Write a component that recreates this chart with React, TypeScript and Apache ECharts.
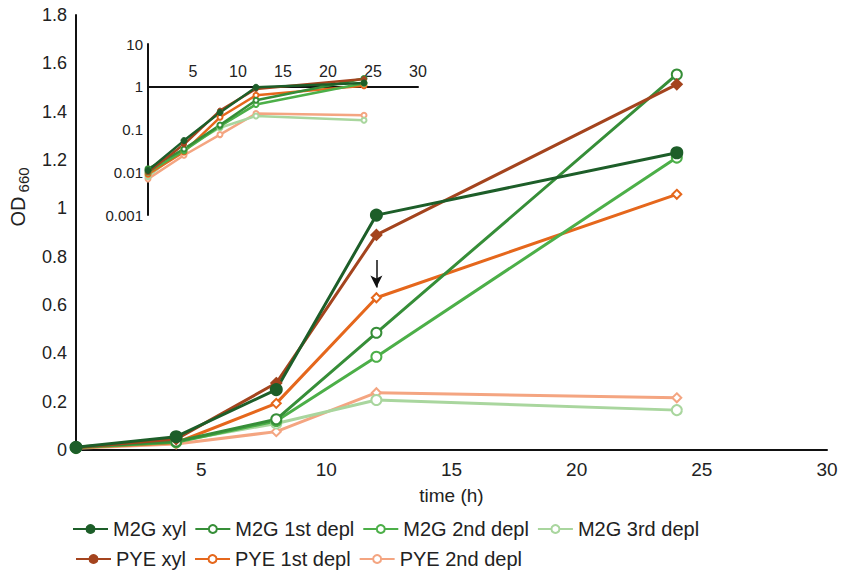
import React, { useEffect, useRef } from "react";
import * as echarts from "echarts";

const hours = [0, 4, 8, 12, 24];
const m2gXyl = [0.011, 0.055, 0.25, 0.972, 1.23];
const m2g1st = [0.012, 0.035, 0.127, 0.485, 1.554];
const m2g2nd = [0.01, 0.032, 0.12, 0.386, 1.21];
const m2g3rd = [0.008, 0.036, 0.11, 0.207, 0.165];
const pyeXyl = [0.01, 0.045, 0.277, 0.89, 1.513];
const pye1st = [0.009, 0.03, 0.193, 0.63, 1.058];
const pye2nd = [0.007, 0.025, 0.076, 0.237, 0.216];

const seriesNames = [
  "M2G xyl",
  "M2G 1st depl",
  "M2G 2nd depl",
  "M2G 3rd depl",
  "PYE xyl",
  "PYE 1st depl",
  "PYE 2nd depl",
];
const xTicks = [0, 5, 10, 15, 20, 25, 30];
const logTicks = [0.001, 0.01, 0.1, 1, 10];
const arrowFrom = [12, 0.786];
const arrowTo = [12, 0.672];

const FONT = "'Liberation Sans', Arial, Helvetica, sans-serif";

type Def = { name: string; values: number[]; color: string; symbol: string; size: number; insetSize: number };

const defs: Def[] = [
  { name: seriesNames[6], values: pye2nd, color: "#f4a581", symbol: "emptyDiamond", size: 9, insetSize: 5 },
  { name: seriesNames[3], values: m2g3rd, color: "#a9d69e", symbol: "emptyCircle", size: 10, insetSize: 5 },
  { name: seriesNames[5], values: pye1st, color: "#e5671c", symbol: "emptyDiamond", size: 9, insetSize: 5 },
  { name: seriesNames[2], values: m2g2nd, color: "#4caf48", symbol: "emptyCircle", size: 10, insetSize: 5 },
  { name: seriesNames[1], values: m2g1st, color: "#368e38", symbol: "emptyCircle", size: 10, insetSize: 5 },
  { name: seriesNames[4], values: pyeXyl, color: "#a4441e", symbol: "diamond", size: 10, insetSize: 5 },
  { name: seriesNames[0], values: m2gXyl, color: "#1d5e29", symbol: "circle", size: 11, insetSize: 6 },
];

export default function App() {
  const ref = useRef<HTMLDivElement>(null);
  useEffect(() => {
    if (!ref.current) return;
    const chart = echarts.init(ref.current, null, { renderer: "svg" });
    const mainSeries = defs.map((d) => ({
      type: "line",
      name: d.name,
      xAxisIndex: 0,
      yAxisIndex: 0,
      data: hours.map((h, i) => [h, d.values[i]]),
      symbol: d.symbol,
      symbolSize: d.size,
      lineStyle: { color: d.color, width: 3 },
      itemStyle: { color: d.color, borderColor: d.color, borderWidth: 2 },
      emphasis: { disabled: true },
      markLine:
        d.name === "PYE 1st depl"
          ? {
              silent: true,
              symbol: ["none", "arrow"],
              symbolSize: [9, 12],
              label: { show: false },
              lineStyle: { color: "#111", width: 1.5, type: "solid" },
              data: [[{ coord: arrowFrom }, { coord: arrowTo }]],
            }
          : undefined,
    }));
    const insetSeries = defs.map((d) => ({
      type: "line",
      name: d.name,
      xAxisIndex: 1,
      yAxisIndex: 1,
      data: hours.map((h, i) => [h, d.values[i]]),
      symbol: d.symbol === "circle" || d.symbol === "diamond" ? "circle" : "emptyCircle",
      symbolSize: d.insetSize,
      lineStyle: { color: d.color, width: 2.5 },
      itemStyle: { color: d.color, borderColor: d.color, borderWidth: 1 },
      emphasis: { disabled: true },
    }));
    const legendText = { fontFamily: FONT, fontSize: 20, color: "#222" };
    chart.setOption({
      animation: false,
      textStyle: { fontFamily: FONT },
      grid: [
        { left: 76, right: 15, top: 15, bottom: 121, containLabel: false },
        { left: 148, top: 44, width: 270, height: 171, containLabel: false },
        { left: 148, top: 87, width: 270, height: 1, containLabel: false },
      ],
      legend: [
        {
          data: seriesNames.slice(0, 4),
          left: 72,
          top: 519,
          padding: 0,
          itemWidth: 35,
          itemHeight: 10,
          itemGap: 8,
          textStyle: legendText,
          selectedMode: false,
        },
        {
          data: seriesNames.slice(4),
          left: 75,
          top: 549,
          padding: 0,
          itemWidth: 35,
          itemHeight: 10,
          itemGap: 8,
          textStyle: legendText,
          selectedMode: false,
        },
      ],
      xAxis: [
        {
          type: "value",
          gridIndex: 0,
          min: xTicks[0],
          max: xTicks[xTicks.length - 1],
          interval: 5,
          name: "time (h)",
          nameLocation: "middle",
          nameGap: 36,
          nameTextStyle: { fontSize: 19, color: "#222", fontFamily: FONT },
          axisLine: { show: true, onZero: false, lineStyle: { color: "#111", width: 2 } },
          axisTick: { show: false },
          splitLine: { show: false },
          axisLabel: { fontSize: 19, color: "#222", margin: 10, showMinLabel: false },
        },
        {
          type: "value",
          gridIndex: 1,
          min: 0,
          max: 30,
          interval: 5,
          show: false,
        },
        {
          type: "value",
          gridIndex: 2,
          position: "top",
          min: 0,
          max: 30,
          interval: 5,
          axisLine: { show: true, onZero: false, lineStyle: { color: "#111", width: 2 } },
          axisTick: { show: false },
          splitLine: { show: false },
          axisLabel: { fontSize: 16, color: "#222", margin: 8, showMinLabel: false },
        },
      ],
      yAxis: [
        {
          type: "value",
          gridIndex: 0,
          min: 0,
          max: 1.8,
          interval: 0.2,
          name: "{a|OD}{b| 660}",
          nameLocation: "middle",
          nameGap: 43,
          nameRotate: 90,
          nameTextStyle: {
            padding: [0, 0, 0, 71],
            rich: {
              a: { fontSize: 20, color: "#222", fontFamily: FONT, verticalAlign: "bottom" },
              b: { fontSize: 15, color: "#222", fontFamily: FONT, verticalAlign: "bottom", padding: [0, 0, -3, 0] },
            },
          },
          axisLine: { show: true, lineStyle: { color: "#111", width: 2 } },
          axisTick: { show: false },
          splitLine: { show: false },
          axisLabel: { fontSize: 18, color: "#222", margin: 9 },
        },
        {
          type: "log",
          gridIndex: 1,
          logBase: 10,
          min: logTicks[0],
          max: logTicks[logTicks.length - 1],
          axisLine: { show: true, lineStyle: { color: "#111", width: 2 } },
          axisTick: { show: false },
          splitLine: { show: false },
          axisLabel: {
            fontSize: 15,
            color: "#222",
            margin: 5,
            formatter: (v: number) => {
              const m = logTicks.find((t) => Math.abs(Math.log10(t) - Math.log10(v)) < 1e-6);
              return m !== undefined ? String(m) : "";
            },
          },
        },
        {
          type: "value",
          gridIndex: 2,
          show: false,
          min: 0,
          max: 1,
        },
      ],
      series: [...insetSeries, ...mainSeries],
    });
    return () => chart.dispose();
  }, []);
  return <div ref={ref} style={{ width: 842, height: 571, position: "absolute", left: 0, top: 0 }} />;
}
